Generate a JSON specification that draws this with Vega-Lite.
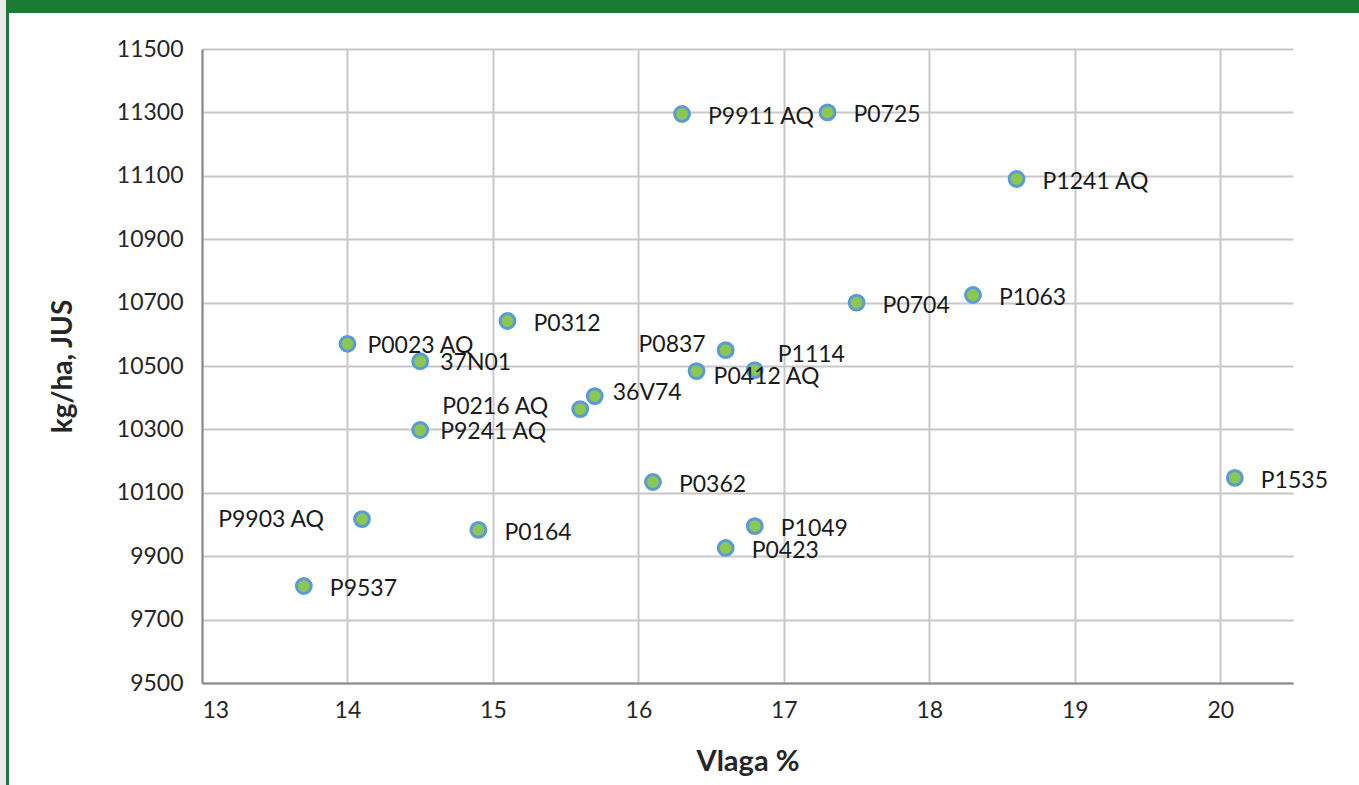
{
  "$schema": "https://vega.github.io/schema/vega-lite/v6.json",
  "padding": 0,
  "background": "white",
  "config": {"view": {"stroke": null}, "concat": {"spacing": 0}},
  "datasets": {
    "hybrids": [
      {"hibrid": "P9911 AQ", "vlaga": 16.3, "prinos": 11295},
      {"hibrid": "P0725", "vlaga": 17.3, "prinos": 11300},
      {"hibrid": "P1241 AQ", "vlaga": 18.6, "prinos": 11090},
      {"hibrid": "P0704", "vlaga": 17.5, "prinos": 10700},
      {"hibrid": "P1063", "vlaga": 18.3, "prinos": 10724},
      {"hibrid": "P0312", "vlaga": 15.1, "prinos": 10642},
      {"hibrid": "P0023 AQ", "vlaga": 14.0, "prinos": 10570},
      {"hibrid": "37N01", "vlaga": 14.5, "prinos": 10515},
      {"hibrid": "P0837", "vlaga": 16.6, "prinos": 10550},
      {"hibrid": "P1114", "vlaga": 16.8, "prinos": 10487},
      {"hibrid": "P0412 AQ", "vlaga": 16.4, "prinos": 10484},
      {"hibrid": "36V74", "vlaga": 15.7, "prinos": 10405},
      {"hibrid": "P0216 AQ", "vlaga": 15.6, "prinos": 10364},
      {"hibrid": "P9241 AQ", "vlaga": 14.5, "prinos": 10298},
      {"hibrid": "P0362", "vlaga": 16.1, "prinos": 10134},
      {"hibrid": "P1535", "vlaga": 20.1, "prinos": 10147},
      {"hibrid": "P9903 AQ", "vlaga": 14.1, "prinos": 10017},
      {"hibrid": "P0164", "vlaga": 14.9, "prinos": 9983},
      {"hibrid": "P1049", "vlaga": 16.8, "prinos": 9995},
      {"hibrid": "P0423", "vlaga": 16.6, "prinos": 9926},
      {"hibrid": "P9537", "vlaga": 13.7, "prinos": 9806}
    ]
  },
  "hconcat": [
    {"data": {"values": []}, "mark": "point", "width": 6, "height": 785, "view": {"fill": "#e8ebe8", "stroke": null}},
    {
      "vconcat": [
        {"data": {"values": []}, "mark": "point", "width": 1353, "height": 13, "view": {"fill": "#1d7a32", "stroke": null}},
        {
          "hconcat": [
            {"data": {"values": []}, "mark": "point", "width": 3, "height": 772, "view": {"fill": "#1d7a32", "stroke": null}},
            {
              "vconcat": [
                {"data": {"values": []}, "mark": "point", "width": 1, "height": 25, "view": {"stroke": null}},
                {
                  "hconcat": [
                    {"data": {"values": []}, "mark": "point", "width": 40, "height": 1, "view": {"stroke": null}},
                    {
                      "data": {"name": "hybrids"},
                      "width": 1091,
                      "height": 634,
                      "encoding": {
                        "x": {"field": "vlaga", "type": "quantitative",
                          "scale": {"domain": [13, 20.5], "nice": false, "zero": false},
                          "axis": {"values": [13, 14, 15, 16, 17, 18, 19, 20], "title": "Vlaga %", "format": "d",
                            "grid": true, "gridColor": "#c8c8c8", "gridWidth": 2,
                            "domainColor": "#8a8a8a", "domainWidth": 2, "ticks": false, "tickSize": 0,
                            "labelFont": "Lato", "labelFontSize": 23, "labelColor": "#262626", "labelPadding": 16,
                            "titleFont": "Lato", "titleFontSize": 29, "titleFontWeight": "bold", "titleColor": "#262626", "titlePadding": 25}},
                        "y": {"field": "prinos", "type": "quantitative",
                          "scale": {"domain": [9500, 11500], "nice": false, "zero": false},
                          "axis": {"values": [9500, 9700, 9900, 10100, 10300, 10500, 10700, 10900, 11100, 11300, 11500], "title": "kg/ha, JUS", "format": "d",
                            "grid": true, "gridColor": "#c8c8c8", "gridWidth": 2,
                            "domainColor": "#8a8a8a", "domainWidth": 2, "ticks": false, "tickSize": 0,
                            "labelFont": "Lato", "labelFontSize": 23, "labelColor": "#262626", "labelPadding": 19,
                            "titleFont": "Lato", "titleFontSize": 28, "titleFontWeight": "bold", "titleColor": "#262626", "titlePadding": 39}}
                      },
                      "layer": [
                        {"mark": {"type": "point", "filled": true, "fill": "#8cc751", "stroke": "#5b9bd5", "strokeWidth": 3, "size": 220, "opacity": 1, "shape": "circle"}},
                        {"transform": [{"filter": {"field": "hibrid", "oneOf": ["P9911 AQ", "P0725", "P1241 AQ", "P0704", "P1063", "P0312", "P0362", "P1535", "P0164", "P1049", "P0423", "P9537"]}}],
                          "mark": {"type": "text", "align": "left", "baseline": "middle", "dx": 26, "dy": 3, "font": "Lato", "fontSize": 23, "color": "#1a1a1a"},
                          "encoding": {"text": {"field": "hibrid"}}},
                        {"transform": [{"filter": {"field": "hibrid", "oneOf": ["P0023 AQ", "37N01", "P9241 AQ"]}}],
                          "mark": {"type": "text", "align": "left", "baseline": "middle", "dx": 20, "dy": 2, "font": "Lato", "fontSize": 23, "color": "#1a1a1a"},
                          "encoding": {"text": {"field": "hibrid"}}},
                        {"transform": [{"filter": {"field": "hibrid", "equal": "36V74"}}],
                          "mark": {"type": "text", "align": "left", "baseline": "middle", "dx": 18, "dy": -3, "font": "Lato", "fontSize": 23, "color": "#1a1a1a"},
                          "encoding": {"text": {"field": "hibrid"}}},
                        {"transform": [{"filter": {"field": "hibrid", "equal": "P0412 AQ"}}],
                          "mark": {"type": "text", "align": "left", "baseline": "middle", "dx": 17, "dy": 6, "font": "Lato", "fontSize": 23, "color": "#1a1a1a"},
                          "encoding": {"text": {"field": "hibrid"}}},
                        {"transform": [{"filter": {"field": "hibrid", "equal": "P1114"}}],
                          "mark": {"type": "text", "align": "left", "baseline": "middle", "dx": 23, "dy": -15, "font": "Lato", "fontSize": 23, "color": "#1a1a1a"},
                          "encoding": {"text": {"field": "hibrid"}}},
                        {"transform": [{"filter": {"field": "hibrid", "equal": "P0216 AQ"}}],
                          "mark": {"type": "text", "align": "right", "baseline": "middle", "dx": -32, "dy": -2, "font": "Lato", "fontSize": 23, "color": "#1a1a1a"},
                          "encoding": {"text": {"field": "hibrid"}}},
                        {"transform": [{"filter": {"field": "hibrid", "equal": "P0837"}}],
                          "mark": {"type": "text", "align": "right", "baseline": "middle", "dx": -20, "dy": -5, "font": "Lato", "fontSize": 23, "color": "#1a1a1a"},
                          "encoding": {"text": {"field": "hibrid"}}},
                        {"transform": [{"filter": {"field": "hibrid", "equal": "P9903 AQ"}}],
                          "mark": {"type": "text", "align": "right", "baseline": "middle", "dx": -38, "dy": 1, "font": "Lato", "fontSize": 23, "color": "#1a1a1a"},
                          "encoding": {"text": {"field": "hibrid"}}}
                      ]
                    }
                  ]
                }
              ]
            }
          ]
        }
      ]
    }
  ]
}
